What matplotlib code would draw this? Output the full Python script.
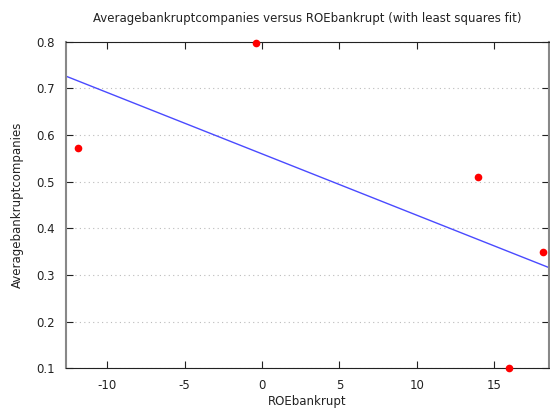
import numpy as np
import matplotlib
matplotlib.use("Agg")
import matplotlib.pyplot as plt

plt.rcParams["axes.unicode_minus"] = False

roe_bankrupt = [-11.89, -0.39, 13.96, 15.94, 18.14]
avg_bankrupt_companies = [0.572, 0.797, 0.509, 0.100, 0.349]
x_ticks = [-10, -5, 0, 5, 10, 15]
y_ticks = [0.1, 0.2, 0.3, 0.4, 0.5, 0.6, 0.7, 0.8]

xmin, xmax = -12.67, 18.54

fig = plt.figure(figsize=(5.5, 4.08), dpi=100)
ax = fig.add_axes([66 / 550, 39.7 / 408, 483 / 550, 326.7 / 408])

# least squares fit
slope, intercept = np.polyfit(roe_bankrupt, avg_bankrupt_companies, 1)
xs = np.array([xmin, xmax])
ax.plot(xs, slope * xs + intercept, color="#4a4aff", linewidth=1.0, zorder=2)

ax.plot(roe_bankrupt, avg_bankrupt_companies, "o", color="#ff0000",
        markersize=5.5, markeredgewidth=0, zorder=3, clip_on=False)

ax.set_xlim(xmin, xmax)
ax.set_ylim(0.1, 0.8)
ax.set_xticks(x_ticks)
ax.set_yticks(y_ticks)
ax.set_yticklabels([f"{v:.1f}" for v in y_ticks])
ax.yaxis.grid(True, linestyle=(0, (1, 3)), color="#bbbbbb", linewidth=0.8)
ax.tick_params(direction="in", length=5, top=True, right=True,
               labelsize=8.5, colors="#222222", pad=8)
for side in ["top", "bottom"]:
    ax.spines[side].set_color("#222222")
for side in ["left", "right"]:
    ax.spines[side].set_color("#888888")
    ax.spines[side].set_linewidth(1.5)

ax.set_title("Averagebankruptcompanies versus ROEbankrupt (with least squares fit)",
             fontsize=8.5, color="#222222", pad=14)
ax.set_xlabel("ROEbankrupt", fontsize=8.5, color="#222222", labelpad=2)
ax.set_ylabel("Averagebankruptcompanies", fontsize=8.5, color="#222222", labelpad=9)

fig.savefig("out.png", dpi=100)
